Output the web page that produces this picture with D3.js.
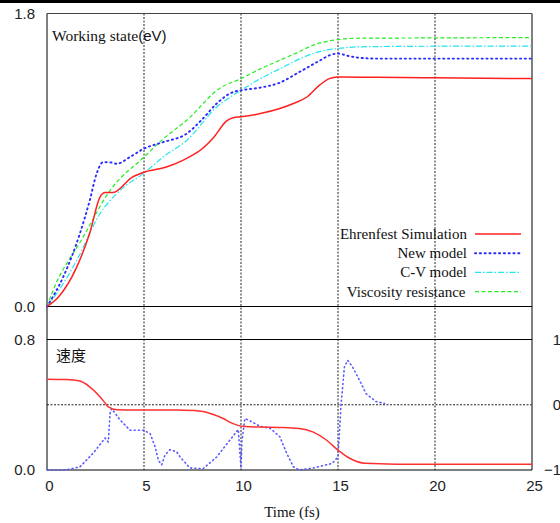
<!DOCTYPE html>
<html>
<head>
<meta charset="utf-8">
<script src="https://cdn.jsdelivr.net/npm/d3@7"></script>
<style>
  body { margin: 0; background: #fff; }
  svg { display: block; }
  .tick text { font-family: "Liberation Sans", Arial, sans-serif; font-size: 15px; fill: #222; }
  .serif { font-family: "Liberation Serif", "Times New Roman", serif; font-size: 15px; fill: #111; }
</style>
</head>
<body>
<svg id="chart" width="560" height="523"></svg>
<script>
// top panel: working state (eV)
var ehrT = [0, 0.58, 1.53, 2.2, 2.73, 3.0, 3.4, 4.4, 5, 6.15, 7.0, 7.5, 7.9, 8.6, 9.26, 9.6, 10, 11, 12, 12.7, 13.4, 14.05, 14.55, 15, 17, 20, 25];
var ehrV = [0, 0.057, 0.242, 0.45, 0.672, 0.70, 0.70, 0.795, 0.825, 0.857, 0.898, 0.93, 0.96, 1.04, 1.14, 1.16, 1.165, 1.185, 1.216, 1.247, 1.287, 1.36, 1.40, 1.41, 1.408, 1.405, 1.40];

var newT = [0, 0.83, 1.7, 2.2, 2.56, 2.9, 3.3, 3.6, 4.3, 5, 6, 7.2, 8.0, 8.75, 9.6, 10, 11, 12, 13, 14.05, 14.6, 15, 15.5, 16.1, 17, 20, 25];
var newV = [0, 0.18, 0.45, 0.65, 0.817, 0.887, 0.885, 0.877, 0.92, 0.97, 1.01, 1.062, 1.15, 1.247, 1.318, 1.328, 1.345, 1.375, 1.44, 1.51, 1.545, 1.554, 1.54, 1.528, 1.523, 1.523, 1.523];

var cvT = [0, 0.5, 1.53, 2.73, 3.76, 5, 6, 7.2, 8.75, 10, 11, 12, 13, 13.7, 14.5, 15, 16, 20, 25];
var cvV = [0, 0.08, 0.283, 0.57, 0.713, 0.82, 0.92, 1.02, 1.226, 1.328, 1.40, 1.46, 1.52, 1.554, 1.578, 1.585, 1.595, 1.599, 1.60];

var viscT = [0, 0.32, 1.86, 3.25, 5, 6, 7.2, 8.9, 10, 11, 12, 13, 13.7, 14.5, 15, 16, 20, 25];
var viscV = [0, 0.1, 0.426, 0.713, 0.918, 1.03, 1.144, 1.34, 1.40, 1.46, 1.513, 1.565, 1.605, 1.63, 1.64, 1.648, 1.65, 1.652];

// bottom panel: speed (left axis) and blue dotted (right axis)
var spdT = [0, 1.0, 1.7, 2.2, 2.73, 3.0, 3.16, 3.6, 5, 7, 7.6, 8.05, 8.5, 9.08, 9.5, 9.8, 10.2, 11, 12, 13, 13.7, 14.4, 15, 15.6, 16.4, 18, 25];
var spdV = [0.557, 0.555, 0.545, 0.51, 0.449, 0.41, 0.387, 0.37, 0.368, 0.367, 0.365, 0.358, 0.343, 0.316, 0.289, 0.275, 0.266, 0.263, 0.261, 0.255, 0.234, 0.184, 0.122, 0.072, 0.041, 0.036, 0.035];

var rT = [0, 1.0, 1.7, 2.39, 2.99, 3.16, 3.25, 3.33, 3.76, 4.28, 4.97, 5.31, 5.57, 5.74, 5.91, 6.08, 6.34, 6.68, 6.86, 7.37, 8.05, 8.75, 9.43, 9.86, 10.0, 10.05, 10.2, 10.55, 10.98, 11.5, 12.0, 12.35, 12.7, 13.0, 13.7, 14.7, 15.0, 15.15, 15.33, 15.5, 15.75, 16.1, 16.45, 16.95, 17.4];
var rV = [-1.0, -1.0, -0.95, -0.74, -0.51, -0.57, -0.13, -0.06, -0.23, -0.39, -0.39, -0.44, -0.64, -0.85, -0.92, -0.77, -0.69, -0.72, -0.80, -0.97, -0.98, -0.80, -0.54, -0.38, -0.97, -0.55, -0.21, -0.26, -0.33, -0.36, -0.49, -0.74, -0.95, -1.0, -0.97, -0.90, -0.80, -0.03, 0.58, 0.68, 0.58, 0.38, 0.17, 0.05, 0.02];

var xTicks = [0, 5, 10, 15, 20, 25];
var gridX = [5, 10, 15, 20];
var legendNames = ["Ehrenfest Simulation", "New model", "C-V model", "Viscosity resistance"];

var svg = d3.select("#chart");

var x = d3.scaleLinear().domain([0, 25]).range([47, 532]);
var yTop = d3.scaleLinear().domain([0, 1.8]).range([306.5, 13.5]);
var yBot = d3.scaleLinear().domain([0, 0.8]).range([470, 339.5]);
var yRight = d3.scaleLinear().domain([-1, 1]).range([470, 339.5]);

// black strip at the very top
svg.append("rect").attr("x", 0).attr("y", 0).attr("width", 560).attr("height", 3).attr("fill", "#000");

// vertical grid lines through both panels
svg.selectAll(".gridx").data(gridX).enter().append("line")
    .attr("x1", d => x(d)).attr("x2", d => x(d))
    .attr("y1", yTop(1.8)).attr("y2", yBot(0))
    .attr("stroke", "#222").attr("stroke-width", 1)
    .attr("stroke-dasharray", "2,1.5");

// horizontal zero line of the right axis
svg.append("line")
    .attr("x1", x(0)).attr("x2", x(25))
    .attr("y1", yRight(0)).attr("y2", yRight(0))
    .attr("stroke", "#222").attr("stroke-dasharray", "2,1.5");

// frames
svg.append("line").attr("x1", x(0)).attr("x2", x(0)).attr("y1", yTop(1.8)).attr("y2", yBot(0)).attr("stroke", "#000");
svg.append("line").attr("x1", x(25)).attr("x2", x(25)).attr("y1", yTop(1.8)).attr("y2", yBot(0)).attr("stroke", "#555").attr("stroke-width", 1.5);
svg.append("line").attr("x1", x(0)).attr("x2", x(25)).attr("y1", yTop(1.8)).attr("y2", yTop(1.8)).attr("stroke", "#444");
svg.append("line").attr("x1", x(0)).attr("x2", x(25)).attr("y1", yTop(0)).attr("y2", yTop(0)).attr("stroke", "#000");
svg.append("line").attr("x1", x(0)).attr("x2", x(25)).attr("y1", yBot(0.8)).attr("y2", yBot(0.8)).attr("stroke", "#000");
svg.append("line").attr("x1", x(0)).attr("x2", x(25)).attr("y1", yBot(0)).attr("y2", yBot(0)).attr("stroke", "#000");

// axes
var xAxis = svg.append("g").attr("transform", "translate(2," + yBot(0) + ")")
    .call(d3.axisBottom(x).tickValues(xTicks).tickSize(0).tickPadding(10).tickFormat(d3.format("d")));
xAxis.select(".domain").remove();

var yAxisTop = svg.append("g").attr("transform", "translate(" + x(0) + ",0)")
    .call(d3.axisLeft(yTop).tickValues([0, 1.8]).tickSize(0).tickPadding(12).tickFormat(d3.format(".1f")));
yAxisTop.select(".domain").remove();

var yAxisBot = svg.append("g").attr("transform", "translate(" + x(0) + ",0)")
    .call(d3.axisLeft(yBot).tickValues([0, 0.8]).tickSize(0).tickPadding(12).tickFormat(d3.format(".1f")));
yAxisBot.select(".domain").remove();

var yAxisRight = svg.append("g").attr("transform", "translate(" + (x(25) + 14) + ",0)")
    .call(d3.axisRight(yRight).tickValues([-1, 0, 1]).tickSize(0).tickPadding(0).tickFormat(d3.format("d")));
yAxisRight.select(".domain").remove();
yAxisRight.selectAll("text").attr("text-anchor", "end").attr("x", 15);

// series
function pts(ts, vs) { return ts.map((t, i) => [t, vs[i]]); }

var lineTop = d3.line().x(d => x(d[0])).y(d => yTop(d[1])).curve(d3.curveMonotoneX);
var lineBot = d3.line().x(d => x(d[0])).y(d => yBot(d[1])).curve(d3.curveMonotoneX);
var lineRight = d3.line().x(d => x(d[0])).y(d => yRight(d[1]));

var styles = [
    { stroke: "#22ee22", dash: "4,2.5", width: 1.2 },
    { stroke: "#22e5ee", dash: "6,2,1.5,2", width: 1.2 },
    { stroke: "#2a2aff", dash: "1.2,3.6", width: 1.9 },
    { stroke: "#ff2020", dash: null, width: 1.5 }
];
var topSeries = [pts(viscT, viscV), pts(cvT, cvV), pts(newT, newV), pts(ehrT, ehrV)];

svg.selectAll(".topline").data(topSeries).enter().append("path")
    .attr("d", lineTop)
    .attr("fill", "none")
    .attr("stroke", (d, i) => styles[i].stroke)
    .attr("stroke-width", (d, i) => styles[i].width)
    .attr("stroke-dasharray", (d, i) => styles[i].dash)
    .attr("stroke-linecap", (d, i) => i == 2 ? "round" : "butt");

svg.append("path").datum(pts(rT, rV))
    .attr("d", lineRight)
    .attr("fill", "none")
    .attr("stroke", "#5a5aff")
    .attr("stroke-width", 1.6)
    .attr("stroke-linecap", "round")
    .attr("stroke-dasharray", "1,3.2");

svg.append("path").datum(pts(spdT, spdV))
    .attr("d", lineBot)
    .attr("fill", "none")
    .attr("stroke", "#ff3030")
    .attr("stroke-width", 1.5);

// legend
var legStyles = [styles[3], styles[2], styles[1], styles[0]];
var leg = svg.append("g");
legendNames.forEach(function (name, i) {
    var yy = 234 + i * 19.2;
    leg.append("text").attr("class", "serif")
        .attr("x", 467 - (i == 3 ? 1.5 : 0)).attr("y", yy + 5)
        .attr("text-anchor", "end").text(name);
    leg.append("line")
        .attr("x1", 475).attr("x2", 521).attr("y1", yy).attr("y2", yy)
        .attr("stroke", legStyles[i].stroke)
        .attr("stroke-width", legStyles[i].width)
        .attr("stroke-dasharray", legStyles[i].dash)
        .attr("stroke-linecap", i == 1 ? "round" : "butt");
});

// panel titles
var title = svg.append("text").attr("x", 52).attr("y", 41);
title.append("tspan").attr("class", "serif").style("font-size", "15.5px").text("Working state");
title.append("tspan").style("font-family", "Liberation Sans, Arial, sans-serif").style("font-size", "15px").attr("fill", "#111").text("(eV)");

svg.append("text").attr("x", 56).attr("y", 361)
    .style("font-family", "Noto Sans CJK SC, sans-serif").style("font-size", "15px").attr("fill", "#111")
    .text("速度");

svg.append("text").attr("class", "serif").attr("x", 292).attr("y", 517)
    .attr("text-anchor", "middle").text("Time (fs)");
</script>
</body>
</html>
